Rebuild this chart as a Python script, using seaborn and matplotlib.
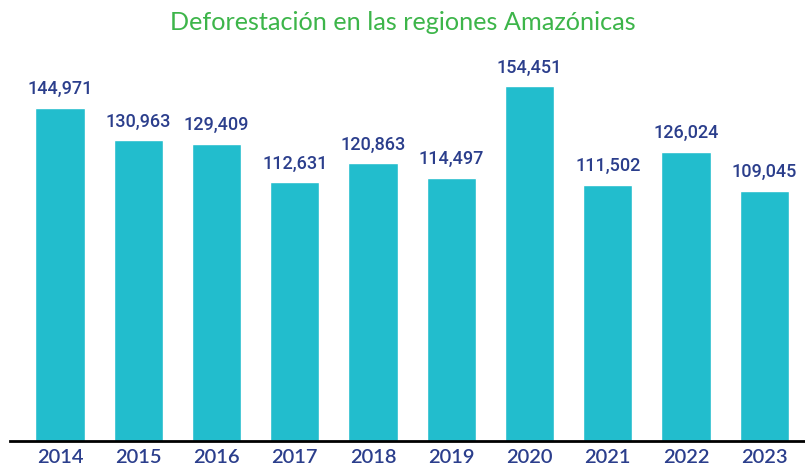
import numpy as np
import pandas as pd
import seaborn as sns
import matplotlib.pyplot as plt

sns.set_theme(style="white")
plt.rcParams['font.family'] = ['Lato', 'DejaVu Sans']

# datos
years = ["2014", "2015", "2016", "2017", "2018", "2019", "2020", "2021", "2022", "2023"]
deforestation = [144971, 130963, 129409, 112631, 120863, 114497, 154451, 111502, 126024, 109045]
df = pd.DataFrame({"year": years, "value": deforestation})

bar_color = "#22BDCD"
label_color = "#2B3E8C"
title_color = "#3DB54A"

fig = plt.figure(figsize=(8.05, 4.68), dpi=100)
ax = fig.add_axes([10 / 805, (468 - 441) / 468, 795 / 805, 390.5 / 468])

sns.barplot(data=df, x="year", y="value", color=bar_color, width=0.63,
            saturation=1, ax=ax)

ax.set_xlim(-0.64, 9.52)
ax.set_ylim(0, 170000)

# etiquetas de valores
for i, v in enumerate(deforestation):
    ax.annotate(f"{v:,}", (i, v), xytext=(0, 7), textcoords="offset points",
                ha="center", va="bottom", fontsize=13, color=label_color,
                family=['Roboto', 'DejaVu Sans'], fontweight="medium")

ax.set_xlabel("")
ax.set_ylabel("")
ax.set_yticks([])
ax.tick_params(axis="x", length=0, pad=6, labelsize=14.5, labelcolor=label_color)
for lbl in ax.get_xticklabels():
    lbl.set_fontweight("semibold")
for s in ["left", "top", "right"]:
    ax.spines[s].set_visible(False)
ax.spines["bottom"].set_color("black")
ax.spines["bottom"].set_linewidth(2)

fig.text(0.5, 1 - 22 / 468, "Deforestación en las regiones Amazónicas",
         ha="center", va="center", fontsize=18.2, color=title_color)

fig.savefig("out.png", dpi=100)
